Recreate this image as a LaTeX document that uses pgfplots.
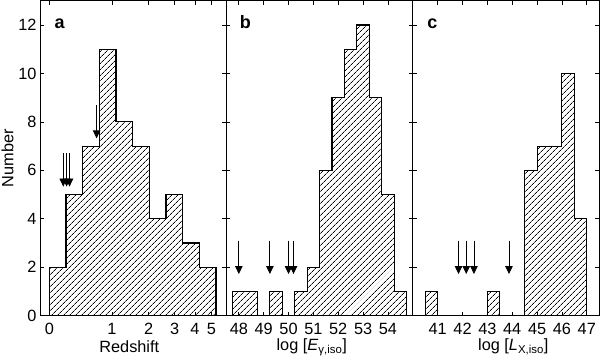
\documentclass[border=0pt]{standalone}
\usepackage{fontspec}
\setmainfont{Liberation Sans}
\usepackage{pgfplots}
\pgfplotsset{compat=1.18}
\usetikzlibrary{patterns.meta,arrows.meta}

\pgfplotsset{
  panel/.style={
    scale only axis, width=186.4pt, height=314.9pt,
    ymin=0, ymax=13, ytick={0,2,...,12},
    tick align=inside, major tick length=4pt,
    xtick pos=both, ytick pos=both,
    axis line style={line width=0.9pt, black},
    every tick/.style={line width=0.8pt, black},
    tick label style={font=\fontsize{16.3}{19}\selectfont},
    label style={font=\fontsize{16.3}{19}\selectfont},
    /pgf/number format/assume math mode=true,
    xticklabel style={anchor=base, yshift=-18.5pt},
  },
  hist/.style={const plot, draw=black, line width=1.1pt,
    pattern={Lines[angle=45,distance=4pt,line width=0.7pt]}, pattern color=black},
  arr/.style={-{Triangle[width=7.5pt,length=8pt]}, line width=0.8pt, black},
}
\tikzset{letter/.style={anchor=base west, font=\fontsize{18}{20}\selectfont\bfseries}}

\begin{document}
\begin{tikzpicture}
\useasboundingbox (0,0) rectangle (600pt,359pt);

% ---------------- panel a ----------------
\begin{axis}[panel, at={(40pt,43.3pt)}, anchor=south west,
  xmin=-0.0446, xmax=0.8498,
  xtick={0,0.30103,0.47712,0.60206,0.69897,0.77815},
  xticklabels={0,1,2,3,4,5},
  xlabel={Redshift}, ylabel={Number},
  xlabel style={at={(axis description cs:0.479,-0.1169)}, anchor=base},
  ylabel style={at={(axis description cs:-0.1422,0.5)}, anchor=base},
]
\addplot[hist] coordinates {(0,0) (0,2) (0.08,5) (0.16,7) (0.24,11) (0.32,8) (0.40,7) (0.48,4) (0.56,5) (0.64,3) (0.72,2) (0.80,0)} \closedcycle;
\addplot[arr] coordinates {(0.067,6.70) (0.067,5.33)};
\addplot[arr] coordinates {(0.083,6.70) (0.083,5.33)};
\addplot[arr] coordinates {(0.097,6.70) (0.097,5.33)};
\addplot[arr] coordinates {(0.227,8.70) (0.227,7.32)};
\node[letter, xshift=11pt, yshift=-27.5pt] at (rel axis cs:0,1) {a};
\end{axis}

% ---------------- panel b ----------------
\begin{axis}[panel, at={(226.4pt,43.3pt)}, anchor=south west,
  xmin=47.5, xmax=55,
  xtick={48,49,50,51,52,53,54},
  yticklabels={},
  xlabel={log [\textit{E}\textsubscript{γ,iso}]},
  xlabel style={at={(axis description cs:0.458,-0.1105)}, anchor=base},
]
\addplot[hist] coordinates {(47.75,0) (47.75,1) (48.25,1) (48.75,0) (49.25,1) (49.75,0) (50.25,1) (50.75,2) (51.25,6) (51.75,9) (52.25,11) (52.75,12) (53.25,9) (53.75,5) (54.25,1) (54.75,0)} \closedcycle;
\addplot[arr] coordinates {(48.0,3.10) (48.0,1.72)};
\addplot[arr] coordinates {(49.25,3.10) (49.25,1.72)};
\addplot[arr] coordinates {(50.0,3.10) (50.0,1.72)};
\addplot[arr] coordinates {(50.2,3.10) (50.2,1.72)};
\node[letter, xshift=10pt, yshift=-27.5pt] at (rel axis cs:0,1) {b};
\end{axis}

% ---------------- panel c ----------------
\begin{axis}[panel, at={(412.8pt,43.3pt)}, anchor=south west,
  xmin=40, xmax=47.5,
  xtick={41,42,43,44,45,46,47},
  yticklabels={},
  xlabel={log [\textit{L}\textsubscript{X,iso}]},
  xlabel style={at={(axis description cs:0.539,-0.1105)}, anchor=base},
]
\addplot[hist] coordinates {(40.5,0) (40.5,1) (41,0) (43,1) (43.5,0) (44.5,6) (45,7) (45.5,7) (46,10) (46.5,4) (47,0)} \closedcycle;
\addplot[arr] coordinates {(41.84,3.10) (41.84,1.72)};
\addplot[arr] coordinates {(42.15,3.10) (42.15,1.72)};
\addplot[arr] coordinates {(42.46,3.10) (42.46,1.72)};
\addplot[arr] coordinates {(43.87,3.10) (43.87,1.72)};
\node[letter, xshift=11pt, yshift=-27.5pt] at (rel axis cs:0,1) {c};
\end{axis}
\end{tikzpicture}
\end{document}
